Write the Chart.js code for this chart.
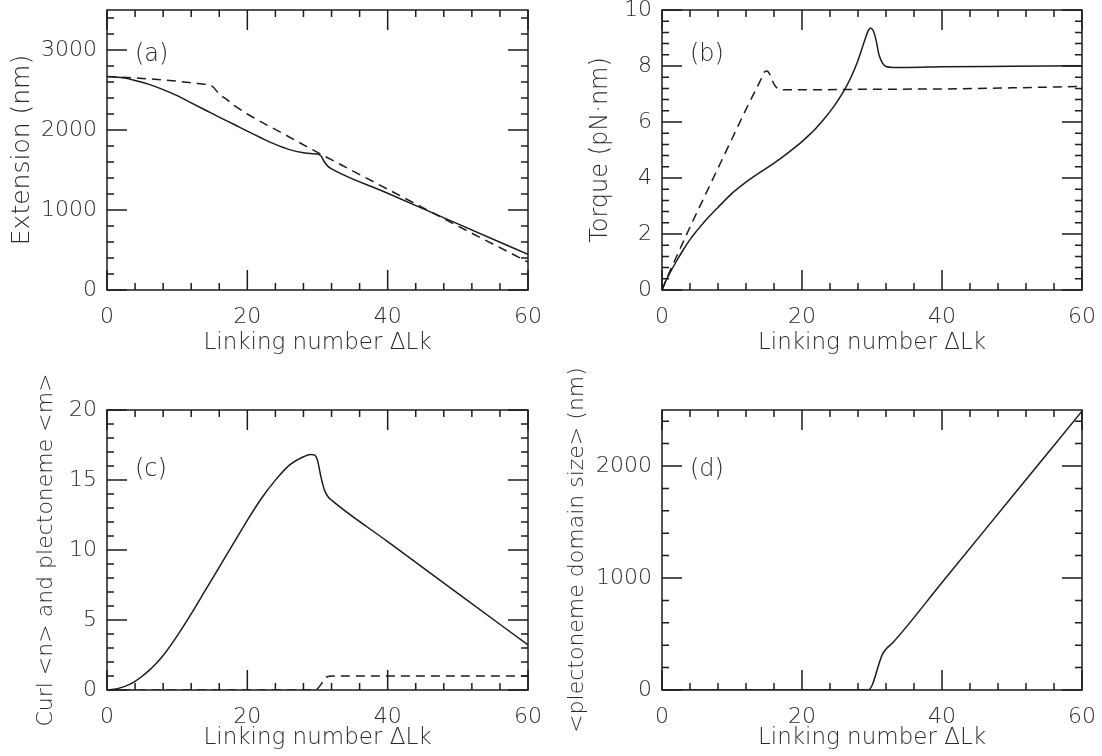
<!DOCTYPE html>
<html>
<head>
<meta charset="utf-8">
<script src="https://cdn.jsdelivr.net/npm/chart.js@4.4.1/dist/chart.umd.min.js"></script>
<style>
    html, body { margin: 0; padding: 0; background: #fff; }
    #wrap { position: relative; width: 1102px; height: 756px; }
    #wrap canvas { position: absolute; left: 0; top: 0; }
</style>
</head>
<body>
<div id="wrap">
    <canvas id="extensionChart" width="1102" height="756"></canvas>
    <canvas id="torqueChart" width="1102" height="756"></canvas>
    <canvas id="curlChart" width="1102" height="756"></canvas>
    <canvas id="domainChart" width="1102" height="756"></canvas>
</div>
<script>
// shared x axis ticks
const lkTicks = [0, 20, 40, 60];

// (a) Extension vs linking number
const extTicks = [0, 1000, 2000, 3000];
const lkExtSolid = [0, 2, 4, 6, 8, 10, 12, 14, 16, 18, 20, 22, 24, 26, 28, 29, 30, 30.5, 31, 31.5, 32, 40, 50, 60];
const extSolid = [2670, 2655, 2620, 2570, 2505, 2430, 2340, 2250, 2160, 2075, 1985, 1900, 1820, 1755, 1715, 1705, 1700, 1675, 1600, 1545, 1515, 1210, 826, 445];
const lkExtDash = [0, 5, 10, 13, 15, 16, 17, 18, 20, 25, 30, 35, 40, 45, 50, 55, 60];
const extDash = [2670, 2645, 2610, 2580, 2545, 2450, 2385, 2315, 2200, 1960, 1720, 1490, 1260, 1030, 800, 575, 350];

// (b) Torque
const torqueTicks = [0, 2, 4, 6, 8, 10];
const lkTorqueSolid = [0, 0.5, 1, 2, 3, 4, 5, 6, 8, 10, 12, 14, 16, 18, 20, 21, 22, 23, 24, 25, 26, 27, 28, 29, 29.5, 29.8, 30.2, 30.6, 31, 31.5, 32, 33, 35, 40, 50, 60];
const torqueSolid = [0, 0.3, 0.55, 1.0, 1.42, 1.8, 2.12, 2.42, 2.95, 3.45, 3.85, 4.2, 4.53, 4.9, 5.3, 5.53, 5.78, 6.06, 6.37, 6.72, 7.12, 7.6, 8.2, 8.95, 9.28, 9.36, 9.25, 8.9, 8.4, 8.1, 7.98, 7.95, 7.95, 7.97, 7.99, 8.01];
const lkTorqueDash = [0, 1, 2, 3, 4, 6, 8, 10, 12, 14, 14.7, 15, 15.5, 16, 16.5, 17, 20, 30, 40, 50, 60];
const torqueDash = [0, 0.6, 1.15, 1.7, 2.25, 3.3, 4.35, 5.4, 6.45, 7.45, 7.8, 7.82, 7.65, 7.35, 7.2, 7.15, 7.15, 7.17, 7.18, 7.22, 7.27];

// (c) Curl <n> (solid) and plectoneme <m> (dashed)
const curlTicks = [0, 5, 10, 15, 20];
const lkCurl = [0, 1, 2, 3, 4, 5, 6, 7, 8, 10, 12, 14, 16, 18, 20, 22, 24, 26, 28, 29, 29.6, 30, 30.5, 31, 31.5, 32, 40, 50, 60];
const curlN = [0, 0.05, 0.17, 0.35, 0.62, 0.98, 1.4, 1.9, 2.46, 3.87, 5.44, 7.11, 8.78, 10.45, 12.12, 13.68, 14.99, 16.06, 16.66, 16.83, 16.78, 16.4, 15.2, 14.27, 13.8, 13.56, 10.6, 6.9, 3.22];
const lkPlect = [0, 29.5, 30, 30.5, 31, 31.5, 32, 60];
const plectM = [0, 0, 0.1, 0.4, 0.8, 0.97, 1, 1];

// (d) Plectoneme domain size
const domainTicks = [0, 1000, 2000];
const lkDomain = [0, 29.5, 30, 30.5, 31, 31.5, 32, 33, 40, 50, 60];
const domainSize = [0, 0, 40, 130, 235, 320, 365, 425, 960, 1725, 2490];

const ink = '#1c1c1c';
const textInk = '#2a2a2a';
const fontFamily = '"DejaVu Sans", sans-serif';

Chart.defaults.font.family = fontFamily;
Chart.defaults.font.size = 22;
Chart.defaults.font.weight = '200';
Chart.defaults.color = textInk;

const toPoints = (xs, ys) => xs.map((x, i) => ({ x: x, y: ys[i] }));
const isMultiple = (v, step) => Math.abs(v / step - Math.round(v / step)) < 1e-6;

// frame with inward major/minor ticks on all four sides, panel tag, rotated y title
const frameTicks = {
    id: 'frameTicks',
    afterDatasetsDraw(chart, args, opts) {
        const { ctx, chartArea: a, scales: { x, y } } = chart;
        ctx.save();
        ctx.strokeStyle = ink;
        ctx.lineWidth = 1.5;
        ctx.strokeRect(a.left, a.top, a.right - a.left, a.bottom - a.top);
        ctx.beginPath();
        const nx = Math.floor((x.max - x.min) / opts.xMinor + 1e-9);
        for (let i = 0; i <= nx; i++) {
            const v = x.min + i * opts.xMinor;
            const px = x.getPixelForValue(v);
            const len = isMultiple(v, opts.xMajor) ? 20 : 7;
            ctx.moveTo(px, a.bottom); ctx.lineTo(px, a.bottom - len);
            ctx.moveTo(px, a.top); ctx.lineTo(px, a.top + len);
        }
        const ny = Math.floor((y.max - y.min) / opts.yMinor + 1e-9);
        for (let i = 0; i <= ny; i++) {
            const v = y.min + i * opts.yMinor;
            const py = y.getPixelForValue(v);
            const len = isMultiple(v, opts.yMajor) ? 20 : 7;
            ctx.moveTo(a.left, py); ctx.lineTo(a.left + len, py);
            ctx.moveTo(a.right, py); ctx.lineTo(a.right - len, py);
        }
        ctx.stroke();

        ctx.fillStyle = textInk;
        ctx.font = '200 24px ' + fontFamily;
        ctx.textAlign = 'left';
        ctx.textBaseline = 'middle';
        ctx.fillText(opts.tag, a.left + 28, a.top + opts.tagDy);

        ctx.font = '200 ' + opts.yTitleSize + 'px ' + fontFamily;
        ctx.translate(opts.yTitleX, (a.top + a.bottom) / 2);
        ctx.rotate(-Math.PI / 2);
        ctx.textAlign = 'center';
        ctx.fillText(opts.yTitle, 0, 0);
        ctx.restore();
    }
};

function panelOptions(box, yMax, yTicks, frame) {
    return {
        responsive: false,
        animation: false,
        events: [],
        layout: { padding: box.padding },
        plugins: { legend: { display: false }, tooltip: { enabled: false }, frameTicks: frame },
        scales: {
            x: {
                type: 'linear', min: 0, max: 60,
                grid: { display: false, drawTicks: false }, border: { display: false },
                ticks: { autoSkip: false, maxRotation: 0, padding: 14, callback: (v) => String(v) },
                afterBuildTicks(s) { s.ticks = lkTicks.map((v) => ({ value: v })); },
                title: { display: true, text: 'Linking number ΔLk', font: { size: 23 }, padding: { top: 0, bottom: box.xTitlePad } },
                afterFit(s) { s.height = box.xHeight; s.paddingLeft = s.paddingRight = s.paddingTop = s.paddingBottom = 0; }
            },
            y: {
                min: 0, max: yMax,
                grid: { display: false, drawTicks: false }, border: { display: false },
                ticks: { autoSkip: false, padding: 10, callback: (v) => String(v) },
                afterBuildTicks(s) { s.ticks = yTicks.map((v) => ({ value: v })); },
                afterFit(s) { s.width = box.yWidth; s.paddingLeft = s.paddingRight = s.paddingTop = s.paddingBottom = 0; }
            }
        }
    };
}

const solid = { borderColor: ink, borderWidth: 1.5, pointRadius: 0, fill: false, cubicInterpolationMode: 'monotone' };
const dashed = Object.assign({}, solid, { borderDash: [9, 6] });

const topRow = { xHeight: 88, xTitlePad: 21 };
const bottomRow = { xHeight: 66, xTitlePad: 4 };

// 1. (a) Extension
new Chart(document.getElementById('extensionChart'), {
    type: 'line',
    data: { datasets: [
        Object.assign({ data: toPoints(lkExtSolid, extSolid) }, solid),
        Object.assign({ data: toPoints(lkExtDash, extDash) }, dashed)
    ] },
    options: panelOptions(
        Object.assign({ padding: { left: 0, top: 10, right: 574, bottom: 378 }, yWidth: 107 }, topRow),
        3500, extTicks,
        { xMinor: 4, xMajor: 20, yMinor: 200, yMajor: 1000, tag: '(a)', tagDy: 45, yTitle: 'Extension (nm)', yTitleX: 22, yTitleSize: 25 }
    ),
    plugins: [frameTicks]
});

// 2. (b) Torque
new Chart(document.getElementById('torqueChart'), {
    type: 'line',
    data: { datasets: [
        Object.assign({ data: toPoints(lkTorqueSolid, torqueSolid) }, solid),
        Object.assign({ data: toPoints(lkTorqueDash, torqueDash) }, dashed)
    ] },
    options: panelOptions(
        Object.assign({ padding: { left: 551, top: 10, right: 20, bottom: 378 }, yWidth: 111 }, topRow),
        10, torqueTicks,
        { xMinor: 4, xMajor: 20, yMinor: 0.4, yMajor: 2, tag: '(b)', tagDy: 45, yTitle: 'Torque (pN·nm)', yTitleX: 601, yTitleSize: 24 }
    ),
    plugins: [frameTicks]
});

// 3. (c) Curl and plectoneme counts
new Chart(document.getElementById('curlChart'), {
    type: 'line',
    data: { datasets: [
        Object.assign({ data: toPoints(lkCurl, curlN) }, solid),
        Object.assign({ data: toPoints(lkPlect, plectM) }, dashed)
    ] },
    options: panelOptions(
        Object.assign({ padding: { left: 0, top: 410, right: 574, bottom: 0 }, yWidth: 107 }, bottomRow),
        20, curlTicks,
        { xMinor: 4, xMajor: 20, yMinor: 1, yMajor: 5, tag: '(c)', tagDy: 60, yTitle: 'Curl <n> and plectoneme <m>', yTitleX: 46, yTitleSize: 22 }
    ),
    plugins: [frameTicks]
});

// 4. (d) Plectoneme domain size
new Chart(document.getElementById('domainChart'), {
    type: 'line',
    data: { datasets: [
        Object.assign({ data: toPoints(lkDomain, domainSize) }, solid)
    ] },
    options: panelOptions(
        Object.assign({ padding: { left: 551, top: 410, right: 20, bottom: 0 }, yWidth: 111 }, bottomRow),
        2500, domainTicks,
        { xMinor: 4, xMajor: 20, yMinor: 200, yMajor: 1000, tag: '(d)', tagDy: 60, yTitle: '<plectoneme domain size> (nm)', yTitleX: 577, yTitleSize: 22 }
    ),
    plugins: [frameTicks]
});
</script>
</body>
</html>
